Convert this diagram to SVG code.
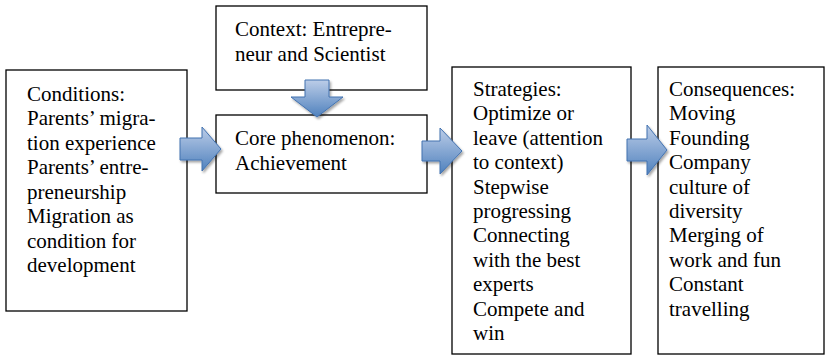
<svg xmlns="http://www.w3.org/2000/svg" width="826" height="356" viewBox="0 0 826 356">
<style>
.box{fill:#fff;stroke:#000;stroke-width:1.3}
.t{font-family:'Liberation Serif','Noto Serif','DejaVu Serif',FreeSerif,Times,Tinos,serif;font-size:21px;fill:#000}
.arr{fill:url(#g);stroke:#4272b0;stroke-width:1;filter:url(#sh)}
</style>
<defs>
<linearGradient id="g" x1="0" y1="0" x2="0" y2="1">
<stop offset="0" stop-color="#bccde8"/>
<stop offset="1" stop-color="#4f81bd"/>
</linearGradient>
<filter id="sh" x="-20%" y="-20%" width="150%" height="150%">
<feDropShadow dx="1.5" dy="2" stdDeviation="1" flood-color="#000" flood-opacity="0.35"/>
</filter>
</defs>
<g id="conditions">
<rect class="box" x="6" y="70" width="181" height="241"/>
<text class="t" x="27" y="100.5">
<tspan x="27">Conditions:</tspan>
<tspan x="27" dy="24.5">Parents’ migra-</tspan>
<tspan x="27" dy="24.5">tion experience</tspan>
<tspan x="27" dy="24.5">Parents’ entre-</tspan>
<tspan x="27" dy="24.5">preneurship</tspan>
<tspan x="27" dy="24.5">Migration as</tspan>
<tspan x="27" dy="24.5">condition for</tspan>
<tspan x="27" dy="24.5">development</tspan>
</text>
</g>
<g id="context">
<rect class="box" x="216" y="6" width="211" height="84"/>
<text class="t" x="235" y="36">
<tspan x="235">Context: Entrepre-</tspan>
<tspan x="235" dy="24.5">neur and Scientist</tspan>
</text>
</g>
<g id="core">
<rect class="box" x="216" y="115" width="211" height="78"/>
<text class="t" x="235" y="145">
<tspan x="235">Core phenomenon:</tspan>
<tspan x="235" dy="24.5">Achievement</tspan>
</text>
</g>
<g id="strategies">
<rect class="box" x="452" y="67" width="179" height="287"/>
<text class="t" x="473" y="96">
<tspan x="473">Strategies:</tspan>
<tspan x="473" dy="24.4">Optimize or</tspan>
<tspan x="473" dy="24.4">leave (attention</tspan>
<tspan x="473" dy="24.4">to context)</tspan>
<tspan x="473" dy="24.4">Stepwise</tspan>
<tspan x="473" dy="24.4">progressing</tspan>
<tspan x="473" dy="24.4">Connecting</tspan>
<tspan x="473" dy="24.4">with the best</tspan>
<tspan x="473" dy="24.4">experts</tspan>
<tspan x="473" dy="24.4">Compete and</tspan>
<tspan x="473" dy="24.4">win</tspan>
</text>
</g>
<g id="consequences">
<rect class="box" x="658" y="67" width="166" height="287"/>
<text class="t" x="669" y="96">
<tspan x="669">Consequences:</tspan>
<tspan x="669" dy="24.4">Moving</tspan>
<tspan x="669" dy="24.4">Founding</tspan>
<tspan x="669" dy="24.4">Company</tspan>
<tspan x="669" dy="24.4">culture of</tspan>
<tspan x="669" dy="24.4">diversity</tspan>
<tspan x="669" dy="24.4">Merging of</tspan>
<tspan x="669" dy="24.4">work and fun</tspan>
<tspan x="669" dy="24.4">Constant</tspan>
<tspan x="669" dy="24.4">travelling</tspan>
</text>
</g>
<g id="connectors">
<path class="arr" d="M180,138 H202 V127 L221,149 L202,171 V160 H180 Z"/>
<path class="arr" d="M305,80 H329 V97 H343 L317,117 L291,97 H305 Z"/>
<path class="arr" d="M422,141 H440 V128 L462,151 L440,174 V161 H422 Z"/>
<path class="arr" d="M627,139 H647 V125 L667,150 L647,175 V161 H627 Z"/>
</g>
</svg>
